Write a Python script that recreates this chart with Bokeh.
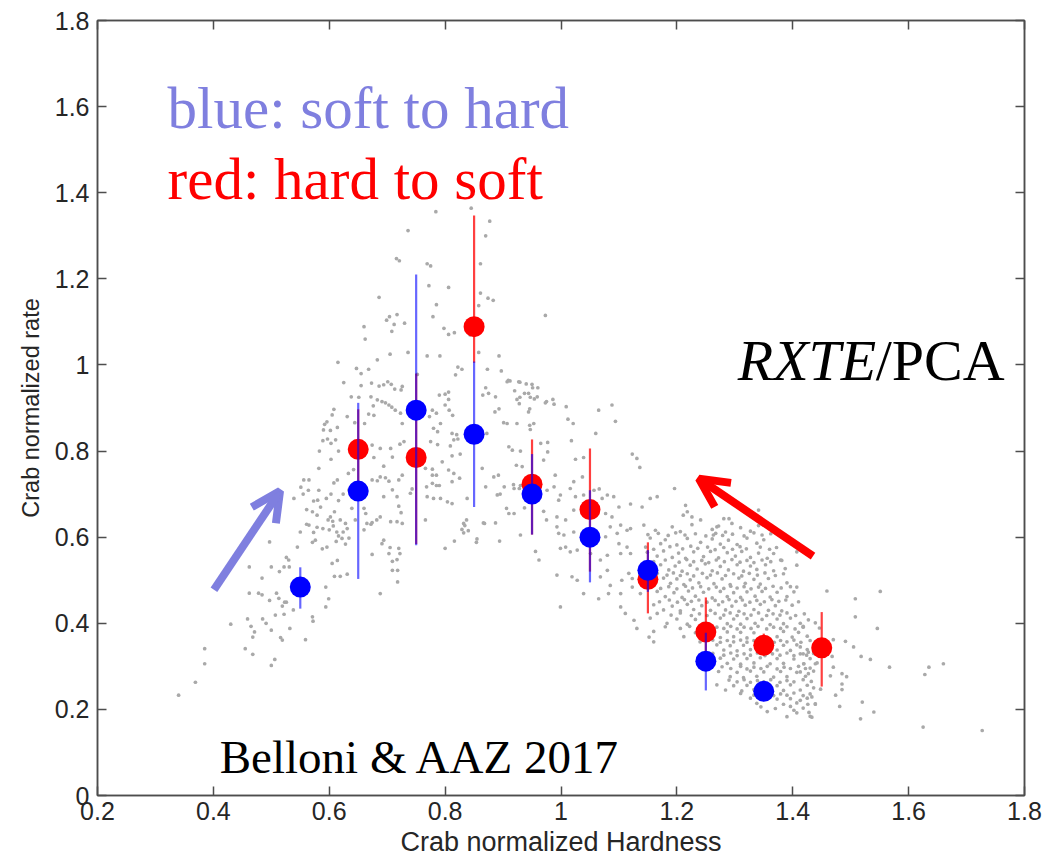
from bokeh.plotting import figure
from bokeh.models import (ColumnDataSource, FixedTicker, LinearAxis, Label, Arrow,
                          OpenHead, CustomJSTickFormatter, Range1d)
from bokeh.embed import file_html
from bokeh.resources import INLINE

# ---------------- data ----------------
x_ticks = [0.2, 0.4, 0.6, 0.8, 1.0, 1.2, 1.4, 1.6, 1.8]
x_tick_labels = ["0.2", "0.4", "0.6", "0.8", "1", "1.2", "1.4", "1.6", "1.8"]
y_ticks = [0.0, 0.2, 0.4, 0.6, 0.8, 1.0, 1.2, 1.4, 1.6, 1.8]
y_tick_labels = ["0", "0.2", "0.4", "0.6", "0.8", "1", "1.2", "1.4", "1.6", "1.8"]

# blue: soft to hard
blue_x = [0.55, 0.65, 0.75, 0.85, 0.95, 1.05, 1.15, 1.25, 1.35]
blue_y = [0.484, 0.707, 0.895, 0.839, 0.700, 0.600, 0.523, 0.312, 0.242]
blue_lo = [0.434, 0.503, 0.581, 0.670, 0.606, 0.495, 0.473, 0.244, 0.236]
blue_hi = [0.530, 0.912, 1.210, 1.008, 0.793, 0.709, 0.570, 0.378, 0.248]

# red: hard to soft
red_x = [0.65, 0.75, 0.85, 0.95, 1.05, 1.15, 1.25, 1.35, 1.45]
red_y = [0.804, 0.785, 1.089, 0.723, 0.664, 0.502, 0.380, 0.349, 0.343]
red_lo = [0.700, 0.584, 1.005, 0.606, 0.520, 0.423, 0.320, 0.325, 0.253]
red_hi = [0.897, 0.980, 1.347, 0.827, 0.806, 0.588, 0.460, 0.376, 0.426]

# grey cloud of individual observations (hardness, rate)
gray_rise = [
    (0.340, 0.233), (0.369, 0.263), (0.385, 0.306), (0.385, 0.341), (0.430, 0.398), (0.455, 0.341),
    (0.468, 0.328), (0.459, 0.410), (0.465, 0.393), (0.471, 0.380), (0.468, 0.368), (0.485, 0.410),
    (0.491, 0.400), (0.500, 0.384), (0.506, 0.316), (0.500, 0.302), (0.516, 0.367), (0.519, 0.361),
    (0.532, 0.388), (0.462, 0.531), (0.484, 0.505), (0.500, 0.531), (0.522, 0.531), (0.531, 0.531),
    (0.462, 0.470), (0.478, 0.470), (0.484, 0.466), (0.497, 0.453), (0.509, 0.470), (0.513, 0.458),
    (0.523, 0.449), (0.526, 0.449), (0.519, 0.440), (0.507, 0.419), (0.522, 0.421), (0.538, 0.431),
    (0.539, 0.690), (0.555, 0.700), (0.564, 0.709), (0.580, 0.686), (0.595, 0.690), (0.561, 0.664),
    (0.571, 0.659), (0.579, 0.651), (0.565, 0.628), (0.550, 0.612), (0.576, 0.593), (0.571, 0.588),
    (0.545, 0.577), (0.497, 0.589), (0.526, 0.553), (0.530, 0.547), (0.514, 0.520), (0.609, 0.659),
    (0.602, 0.647), (0.607, 0.626), (0.619, 0.640), (0.628, 0.632), (0.631, 0.620), (0.622, 0.597),
    (0.616, 0.603), (0.612, 0.590), (0.596, 0.577), (0.588, 0.573), (0.605, 0.539), (0.609, 0.509),
    (0.619, 0.509), (0.631, 0.514), (0.614, 0.546), (0.594, 0.484), (0.599, 0.457), (0.594, 0.438),
    (0.571, 0.415), (0.572, 0.405), (0.559, 0.362),
    (0.611, 0.826), (0.589, 0.824), (0.597, 0.828), (0.603, 0.818), (0.603, 0.781), (0.582, 0.760),
    (0.556, 0.733), (0.565, 0.733), (0.551, 0.716), (0.582, 0.709), (0.573, 0.684), (0.585, 0.670),
    (0.561, 0.630), (0.579, 0.623), (0.589, 0.620), (0.598, 0.640), (0.606, 0.637), (0.600, 0.617),
    (0.613, 0.612), (0.624, 0.612), (0.573, 0.611), (0.634, 0.598), (0.628, 0.584), (0.614, 0.733),
    (0.608, 0.726), (0.603, 0.700), (0.616, 0.685), (0.624, 0.700), (0.634, 0.710), (0.639, 0.667),
    (0.645, 0.640), (0.660, 0.667), (0.660, 0.617), (0.672, 0.630), (0.682, 0.640),
    (0.614, 0.855), (0.602, 0.848), (0.590, 0.849), (0.583, 0.800), (0.616, 0.800), (0.633, 0.748),
    (0.642, 0.757), (0.608, 0.897), (0.605, 0.884), (0.596, 0.868), (0.592, 0.862),
]
gray_peak = [
    (0.625, 0.959), (0.686, 0.951), (0.638, 0.926), (0.651, 0.925), (0.672, 0.926), (0.683, 0.919),
    (0.691, 0.915), (0.697, 0.912), (0.703, 0.907), (0.708, 0.902), (0.676, 0.905), (0.631, 0.880),
    (0.644, 0.866), (0.661, 0.864), (0.668, 0.886), (0.677, 0.883), (0.714, 0.895), (0.723, 0.888),
    (0.726, 0.864), (0.729, 0.822), (0.722, 0.816), (0.726, 0.950), (0.724, 0.942), (0.778, 0.895),
    (0.785, 0.888), (0.773, 0.880), (0.792, 0.864), (0.800, 0.907), (0.806, 0.920), (0.807, 0.895),
    (0.813, 0.883), (0.780, 0.853), (0.787, 0.845), (0.775, 0.822), (0.787, 0.815), (0.812, 0.841),
    (0.820, 0.838), (0.815, 0.826), (0.822, 0.828), (0.809, 0.812), (0.795, 0.775), (0.812, 0.789),
    (0.826, 0.793), (0.806, 0.756), (0.815, 0.748), (0.825, 0.737), (0.812, 0.729), (0.790, 0.720),
    (0.778, 0.744), (0.785, 0.744), (0.769, 0.694), (0.832, 0.632), (0.837, 0.640), (0.840, 0.615),
    (0.864, 0.760), (0.866, 0.633), (0.884, 0.740), (0.892, 0.744), (0.902, 0.717), (0.895, 0.700),
    (0.919, 0.713), (0.928, 0.713), (0.923, 0.767), (0.933, 0.764), (0.916, 0.802), (0.930, 0.800),
    (0.907, 0.864), (0.924, 0.864), (0.910, 0.810), (0.875, 0.934), (0.886, 0.891), (0.907, 0.961),
    (0.927, 0.961), (0.944, 0.934), (0.959, 0.926), (0.975, 0.915), (0.944, 0.891), (0.953, 0.864),
    (0.947, 0.850), (0.924, 0.920), (0.872, 0.841), (0.906, 0.667), (0.919, 0.655), (0.937, 0.668),
    (0.970, 0.660), (0.975, 0.640), (0.956, 0.567), (0.855, 0.596), (0.832, 0.610),
    (0.674, 0.814), (0.688, 0.806), (0.706, 0.806), (0.677, 0.785), (0.694, 0.765), (0.709, 0.786),
    (0.688, 0.740), (0.697, 0.738), (0.674, 0.733), (0.683, 0.731), (0.703, 0.730), (0.720, 0.733),
    (0.726, 0.744), (0.709, 0.710), (0.717, 0.694), (0.720, 0.672), (0.694, 0.694), (0.724, 0.657),
    (0.691, 0.585), (0.705, 0.576), (0.717, 0.548), (0.674, 0.560), (0.709, 0.544), (0.766, 0.760),
    (0.778, 0.758), (0.760, 0.770), (0.778, 0.725), (0.785, 0.720),
    (0.663, 0.655), (0.665, 0.632), (0.674, 0.634), (0.688, 0.647), (0.694, 0.593), (0.703, 0.562),
    (0.720, 0.574), (0.722, 0.562), (0.709, 0.523), (0.718, 0.523), (0.718, 0.496), (0.688, 0.469),
    (0.706, 0.636), (0.717, 0.636), (0.726, 0.632), (0.740, 0.702), (0.743, 0.712), (0.766, 0.640),
    (0.768, 0.717), (0.780, 0.690), (0.792, 0.690), (0.804, 0.682), (0.812, 0.678), (0.800, 0.574),
    (0.816, 0.591), (0.829, 0.618), (0.834, 0.627), (0.838, 0.690), (0.854, 0.588), (0.868, 0.632),
    (0.870, 0.717), (0.887, 0.633), (0.890, 0.698), (0.894, 0.591), (0.910, 0.655), (0.930, 0.605),
    (0.962, 0.547), (0.930, 0.720), (0.918, 0.722),
    (0.845, 1.364), (0.784, 1.356), (0.877, 1.334), (0.736, 1.312), (0.870, 1.300), (0.716, 1.247),
    (0.721, 1.242), (0.769, 1.235), (0.775, 1.230), (0.861, 1.235), (0.772, 1.184), (0.806, 1.180),
    (0.686, 1.157), (0.785, 1.140), (0.861, 1.167), (0.874, 1.155), (0.883, 1.150), (0.858, 1.138),
    (0.704, 1.112), (0.699, 1.104), (0.717, 1.117), (0.730, 1.097), (0.712, 1.094), (0.779, 1.112),
    (0.660, 1.089), (0.708, 1.078), (0.798, 1.085), (0.806, 1.071), (0.816, 1.075), (0.843, 1.070),
    (0.662, 1.060), (0.683, 1.012), (0.705, 1.025), (0.736, 1.029), (0.769, 1.021), (0.791, 1.021),
    (0.858, 1.029), (0.893, 1.021), (0.615, 1.006), (0.647, 0.992), (0.655, 0.980), (0.668, 0.990),
    (0.822, 0.995), (0.829, 0.990), (0.873, 0.990), (0.897, 0.986), (0.752, 0.978), (0.818, 0.977),
    (0.655, 0.952), (0.673, 0.958), (0.701, 0.961), (0.707, 0.955), (0.694, 0.954), (0.713, 0.944),
    (0.800, 0.932), (0.806, 0.937), (0.790, 0.930), (0.870, 0.947), (0.912, 0.963), (0.940, 0.956),
    (0.950, 0.955), (0.960, 0.947), (0.920, 0.940), (0.947, 0.925), (0.865, 0.930), (0.887, 0.926),
    (0.928, 0.910),
    (0.973, 1.115), (0.909, 0.964), (0.929, 0.960), (0.951, 0.947), (0.937, 0.934), (0.929, 0.925),
    (0.954, 0.921), (0.973, 0.912), (0.988, 0.909), (1.009, 0.903), (0.946, 0.898), (0.893, 0.898),
    (1.012, 0.874), (1.021, 0.864), (1.065, 0.895), (1.088, 0.907), (1.094, 0.869), (0.901, 0.866),
    (0.946, 0.860),
]
gray_fall = [
    (0.986, 0.920), (1.060, 0.841), (1.018, 0.824), (0.977, 0.820), (1.025, 0.781), (1.039, 0.785),
    (1.123, 0.793), (1.131, 0.783), (1.136, 0.762), (1.196, 0.713), (1.166, 0.694), (1.154, 0.690),
    (1.140, 0.670), (1.120, 0.677), (1.215, 0.674), (1.218, 0.659), (1.211, 0.651), (1.281, 0.643),
    (1.290, 0.643), (1.295, 0.632), (1.341, 0.663), (1.269, 0.624), (1.263, 0.605),
    (0.965, 0.818), (0.977, 0.798), (0.970, 0.779), (0.990, 0.744), (0.976, 0.709), (0.988, 0.717),
    (0.999, 0.698), (0.996, 0.686), (1.016, 0.713), (1.022, 0.729), (1.037, 0.740), (1.025, 0.694),
    (1.039, 0.698), (1.057, 0.709), (1.066, 0.712), (1.071, 0.690), (1.080, 0.698), (1.091, 0.694),
    (1.100, 0.670), (1.088, 0.647), (1.077, 0.655), (1.062, 0.659), (1.085, 0.624), (1.103, 0.628),
    (1.114, 0.616), (1.120, 0.620), (1.097, 0.609), (1.077, 0.601), (1.100, 0.585), (1.114, 0.577),
    (1.120, 0.562), (1.103, 0.562), (1.080, 0.558), (1.068, 0.547), (1.051, 0.562), (1.028, 0.570),
    (1.016, 0.566), (1.008, 0.577), (0.999, 0.574), (0.996, 0.609), (0.993, 0.624), (1.005, 0.605),
    (1.022, 0.612), (1.008, 0.640), (0.993, 0.647), (1.022, 0.663), (1.080, 0.523), (1.068, 0.508),
    (1.085, 0.488), (1.105, 0.500), (1.117, 0.516), (1.123, 0.504), (1.103, 0.469), (1.082, 0.469),
    (1.065, 0.457), (1.039, 0.469), (1.028, 0.500), (1.019, 0.508), (0.993, 0.512), (0.999, 0.438),
    (1.103, 0.438), (1.111, 0.423), (1.126, 0.407), (1.131, 0.388), (1.152, 0.368), (1.160, 0.357),
    (1.123, 0.484), (1.137, 0.469), (1.226, 0.647), (1.241, 0.640), (1.367, 0.562), (1.379, 0.547),
    (1.387, 0.527), (1.407, 0.484),
]
gray_blob = [
    (1.143, 0.628), (1.163, 0.616), (1.192, 0.624), (1.206, 0.613), (1.226, 0.629), (1.261, 0.618),
    (1.272, 0.626), (1.284, 0.612), (1.310, 0.622), (1.327, 0.614), (1.341, 0.627),
    (1.154, 0.598), (1.172, 0.585), (1.180, 0.594), (1.200, 0.582), (1.218, 0.597), (1.241, 0.588),
    (1.261, 0.596), (1.275, 0.584), (1.289, 0.593), (1.304, 0.583), (1.321, 0.598), (1.338, 0.586),
    (1.350, 0.594),
    (1.149, 0.565), (1.166, 0.556), (1.177, 0.568), (1.192, 0.553), (1.203, 0.563), (1.215, 0.551),
    (1.229, 0.566), (1.246, 0.555), (1.258, 0.567), (1.272, 0.552), (1.287, 0.564), (1.301, 0.556),
    (1.312, 0.567), (1.327, 0.553), (1.341, 0.563), (1.356, 0.551), (1.407, 0.566),
    (1.172, 0.536), (1.186, 0.524), (1.197, 0.533), (1.209, 0.521), (1.223, 0.535), (1.235, 0.526),
    (1.249, 0.538), (1.261, 0.522), (1.275, 0.532), (1.289, 0.524), (1.304, 0.536), (1.315, 0.521),
    (1.327, 0.533), (1.338, 0.525), (1.353, 0.536), (1.367, 0.522),
    (1.177, 0.505), (1.189, 0.493), (1.200, 0.503), (1.212, 0.490), (1.223, 0.501), (1.238, 0.494),
    (1.252, 0.506), (1.264, 0.492), (1.278, 0.503), (1.292, 0.490), (1.307, 0.505), (1.318, 0.493),
    (1.333, 0.502), (1.344, 0.491), (1.358, 0.504), (1.390, 0.494),
    (1.166, 0.474), (1.180, 0.462), (1.195, 0.471), (1.209, 0.460), (1.220, 0.475), (1.232, 0.463),
    (1.246, 0.472), (1.261, 0.459), (1.275, 0.474), (1.287, 0.462), (1.298, 0.471), (1.310, 0.460),
    (1.321, 0.473), (1.335, 0.463), (1.347, 0.474), (1.361, 0.461), (1.373, 0.472), (1.390, 0.462),
    (1.402, 0.473),
    (1.160, 0.443), (1.177, 0.431), (1.192, 0.440), (1.206, 0.429), (1.218, 0.444), (1.229, 0.432),
    (1.243, 0.441), (1.258, 0.430), (1.272, 0.443), (1.284, 0.431), (1.295, 0.440), (1.307, 0.428),
    (1.318, 0.442), (1.333, 0.432), (1.344, 0.444), (1.358, 0.430), (1.370, 0.441), (1.381, 0.429),
    (1.399, 0.442),
    (1.154, 0.412), (1.183, 0.400), (1.200, 0.410), (1.218, 0.398), (1.232, 0.409), (1.246, 0.400),
    (1.275, 0.412), (1.287, 0.399), (1.298, 0.410), (1.310, 0.398), (1.321, 0.411), (1.335, 0.400),
    (1.347, 0.409), (1.361, 0.397), (1.373, 0.410), (1.384, 0.399), (1.396, 0.412), (1.413, 0.400),
    (1.427, 0.408),
    (1.160, 0.381), (1.212, 0.369), (1.232, 0.378), (1.275, 0.367), (1.287, 0.380), (1.298, 0.369),
    (1.310, 0.379), (1.321, 0.366), (1.333, 0.378), (1.373, 0.369), (1.384, 0.381), (1.399, 0.368),
    (1.410, 0.379), (1.425, 0.370),
    (1.269, 0.350), (1.281, 0.338), (1.292, 0.348), (1.304, 0.336), (1.315, 0.349), (1.327, 0.339),
    (1.338, 0.350), (1.373, 0.338), (1.384, 0.349), (1.396, 0.337), (1.407, 0.350), (1.425, 0.339),
    (1.436, 0.347),
    (1.275, 0.319), (1.287, 0.307), (1.298, 0.317), (1.310, 0.305), (1.321, 0.318), (1.333, 0.308),
    (1.344, 0.320), (1.361, 0.306), (1.373, 0.318), (1.384, 0.307), (1.402, 0.317), (1.419, 0.306),
    (1.430, 0.318), (1.442, 0.308),
    (1.272, 0.288), (1.292, 0.276), (1.304, 0.286), (1.315, 0.274), (1.327, 0.289), (1.338, 0.277),
    (1.350, 0.287), (1.367, 0.275), (1.379, 0.288), (1.390, 0.276), (1.407, 0.286), (1.422, 0.277),
    (1.436, 0.289),
    (1.269, 0.257), (1.284, 0.245), (1.298, 0.255), (1.312, 0.243), (1.321, 0.256), (1.333, 0.246),
    (1.373, 0.255), (1.384, 0.244), (1.396, 0.257), (1.413, 0.245), (1.425, 0.256), (1.448, 0.247),
    (1.327, 0.226), (1.338, 0.214), (1.373, 0.224), (1.384, 0.212), (1.396, 0.225), (1.407, 0.215),
    (1.425, 0.226), (1.439, 0.213),
    (1.356, 0.195), (1.390, 0.183), (1.407, 0.192), (1.430, 0.184),
]
gray_blob_fill = [
    (1.150, 0.606), (1.168, 0.609), (1.185, 0.604), (1.198, 0.610), (1.214, 0.605), (1.232, 0.608),
    (1.250, 0.603), (1.267, 0.609), (1.279, 0.604), (1.296, 0.607), (1.316, 0.603), (1.333, 0.610),
    (1.347, 0.605), (1.362, 0.608),
    (1.146, 0.577), (1.160, 0.572), (1.188, 0.578), (1.210, 0.573), (1.224, 0.579), (1.236, 0.574),
    (1.253, 0.577), (1.266, 0.571), (1.281, 0.576), (1.296, 0.572), (1.309, 0.578), (1.320, 0.573),
    (1.344, 0.577), (1.360, 0.572), (1.372, 0.576),
    (1.160, 0.543), (1.180, 0.547), (1.204, 0.542), (1.217, 0.548), (1.229, 0.543), (1.243, 0.546),
    (1.255, 0.541), (1.268, 0.547), (1.282, 0.543), (1.295, 0.548), (1.309, 0.542), (1.321, 0.546),
    (1.333, 0.541), (1.347, 0.547), (1.362, 0.543), (1.381, 0.546),
    (1.166, 0.516), (1.183, 0.512), (1.194, 0.517), (1.206, 0.511), (1.218, 0.515), (1.229, 0.510),
    (1.244, 0.516), (1.258, 0.512), (1.270, 0.517), (1.284, 0.511), (1.298, 0.515), (1.312, 0.510),
    (1.325, 0.516), (1.339, 0.512), (1.352, 0.517), (1.370, 0.511), (1.384, 0.515),
    (1.172, 0.481), (1.186, 0.485), (1.200, 0.480), (1.215, 0.486), (1.227, 0.482), (1.241, 0.485),
    (1.255, 0.480), (1.268, 0.484), (1.281, 0.481), (1.293, 0.486), (1.304, 0.482), (1.316, 0.485),
    (1.328, 0.480), (1.341, 0.484), (1.353, 0.481), (1.366, 0.486), (1.380, 0.482), (1.396, 0.485),
    (1.170, 0.450), (1.187, 0.454), (1.201, 0.449), (1.213, 0.455), (1.225, 0.451), (1.238, 0.454),
    (1.252, 0.449), (1.266, 0.453), (1.279, 0.450), (1.290, 0.455), (1.302, 0.451), (1.313, 0.454),
    (1.326, 0.449), (1.338, 0.453), (1.351, 0.450), (1.364, 0.455), (1.376, 0.451), (1.388, 0.454),
    (1.410, 0.450),
    (1.166, 0.423), (1.190, 0.419), (1.206, 0.424), (1.225, 0.418), (1.239, 0.422), (1.252, 0.418),
    (1.266, 0.423), (1.281, 0.419), (1.292, 0.424), (1.304, 0.418), (1.316, 0.422), (1.328, 0.419),
    (1.341, 0.424), (1.355, 0.418), (1.366, 0.422), (1.378, 0.419), (1.390, 0.424), (1.405, 0.418),
    (1.420, 0.422),
    (1.180, 0.392), (1.206, 0.388), (1.222, 0.393), (1.255, 0.387), (1.269, 0.391), (1.281, 0.388),
    (1.293, 0.393), (1.304, 0.387), (1.316, 0.391), (1.328, 0.388), (1.340, 0.393), (1.355, 0.387),
    (1.367, 0.391), (1.379, 0.388), (1.390, 0.392), (1.404, 0.387), (1.418, 0.391),
    (1.240, 0.357), (1.262, 0.361), (1.275, 0.356), (1.287, 0.360), (1.298, 0.357), (1.310, 0.361),
    (1.321, 0.356), (1.333, 0.360), (1.345, 0.357), (1.357, 0.361), (1.368, 0.356), (1.379, 0.360),
    (1.390, 0.357), (1.402, 0.361), (1.414, 0.356), (1.430, 0.360),
    (1.262, 0.330), (1.281, 0.326), (1.293, 0.331), (1.304, 0.325), (1.316, 0.329), (1.327, 0.326),
    (1.339, 0.331), (1.352, 0.325), (1.365, 0.329), (1.378, 0.326), (1.390, 0.331), (1.402, 0.325),
    (1.413, 0.329), (1.424, 0.326), (1.436, 0.330),
    (1.278, 0.299), (1.293, 0.295), (1.310, 0.300), (1.321, 0.294), (1.333, 0.298), (1.345, 0.295),
    (1.356, 0.300), (1.373, 0.294), (1.385, 0.298), (1.396, 0.295), (1.410, 0.300), (1.430, 0.296),
    (1.290, 0.268), (1.304, 0.264), (1.316, 0.269), (1.327, 0.263), (1.339, 0.267), (1.350, 0.264),
    (1.362, 0.269), (1.378, 0.263), (1.390, 0.267), (1.402, 0.264), (1.418, 0.269), (1.432, 0.265),
    (1.310, 0.237), (1.333, 0.233), (1.350, 0.238), (1.367, 0.232), (1.379, 0.236), (1.390, 0.233),
    (1.402, 0.238), (1.418, 0.232), (1.430, 0.236),
    (1.345, 0.206), (1.370, 0.202), (1.396, 0.207), (1.418, 0.203),
]
gray_tail = [
    (1.407, 0.535), (1.459, 0.475), (1.508, 0.457), (1.551, 0.474), (1.508, 0.415), (1.546, 0.388),
    (1.505, 0.345), (1.518, 0.323), (1.534, 0.316), (1.567, 0.298), (1.485, 0.283), (1.493, 0.276),
    (1.485, 0.259), (1.470, 0.298), (1.465, 0.278), (1.474, 0.233), (1.520, 0.217), (1.540, 0.194),
    (1.433, 0.182), (1.428, 0.193), (1.402, 0.198), (1.517, 0.178), (1.418, 0.393), (1.439, 0.401),
    (1.446, 0.389), (1.470, 0.362), (1.491, 0.358), (1.468, 0.323), (1.485, 0.246), (1.481, 0.207),
    (1.628, 0.281), (1.635, 0.298), (1.660, 0.306), (1.625, 0.159), (1.727, 0.151), (1.413, 0.345),
    (1.418, 0.329), (1.427, 0.333), (1.419, 0.306), (1.427, 0.283), (1.439, 0.306), (1.422, 0.295),
    (1.413, 0.287), (1.436, 0.250), (1.433, 0.229), (1.426, 0.212), (1.439, 0.212), (1.413, 0.221),
]

# ---------------- figure ----------------
AX = "#4d4d4d"
TXT = "#262626"
SANS = "Liberation Sans"
SERIF = "Liberation Serif"

p = figure(frame_width=927, frame_height=775, output_backend="svg", toolbar_location=None,
           x_range=Range1d(0.2, 1.8), y_range=Range1d(0.0, 1.8),
           min_border_left=97, min_border_right=40, min_border_top=20, min_border_bottom=65,
           background_fill_color="white", border_fill_color="white")
p.grid.visible = False
p.outline_line_color = AX
p.outline_line_width = 1.5

def style_axis(ax, ticks, labels, show_labels):
    ax.ticker = FixedTicker(ticks=ticks)
    ax.minor_tick_line_color = None
    ax.major_tick_in = 9
    ax.major_tick_out = 0
    ax.axis_line_color = AX
    ax.axis_line_width = 1.5
    ax.major_tick_line_color = AX
    ax.major_tick_line_width = 1.5
    if show_labels:
        ax.major_label_overrides = dict(zip(ticks, labels))
        ax.major_label_text_font = SANS
        ax.major_label_text_font_size = "25px"
        ax.major_label_text_color = TXT
        ax.axis_label_text_font = SANS
        ax.axis_label_text_font_style = "normal"
        ax.axis_label_text_color = TXT
    else:
        ax.formatter = CustomJSTickFormatter(code="return ''")
        ax.major_label_text_font_size = "0px"
        ax.major_label_standoff = 0

style_axis(p.xaxis[0], x_ticks, x_tick_labels, True)
style_axis(p.yaxis[0], y_ticks, y_tick_labels, True)
p.xaxis[0].axis_label = "Crab normalized Hardness"
p.xaxis[0].axis_label_text_font_size = "27px"
p.xaxis[0].major_label_standoff = 6
p.xaxis[0].axis_label_standoff = 4
p.yaxis[0].axis_label = "Crab normalized rate"
p.yaxis[0].axis_label_text_font_size = "23.5px"
p.yaxis[0].major_label_standoff = 8
p.yaxis[0].axis_label_standoff = 8

top_ax = LinearAxis()
style_axis(top_ax, x_ticks, x_tick_labels, False)
p.add_layout(top_ax, "above")
right_ax = LinearAxis()
style_axis(right_ax, y_ticks, y_tick_labels, False)
p.add_layout(right_ax, "right")

# grey cloud
gray_all = gray_rise + gray_peak + gray_fall + gray_blob + gray_blob_fill + gray_tail
gsrc = ColumnDataSource(dict(x=[g[0] for g in gray_all], y=[g[1] for g in gray_all]))
p.scatter("x", "y", source=gsrc, size=3.7, marker="circle", fill_color="#a9a9a9", line_color=None)

# red series
rsrc = ColumnDataSource(dict(x=red_x, y=red_y, lo=red_lo, hi=red_hi))
p.scatter("x", "y", source=rsrc, size=21, marker="circle", fill_color="#ff0000", line_color=None)
p.segment(x0="x", y0="lo", x1="x", y1="hi", source=rsrc, line_color="#ff0000", line_width=2.2,
          line_alpha=0.75)

# blue series
bsrc = ColumnDataSource(dict(x=blue_x, y=blue_y, lo=blue_lo, hi=blue_hi))
p.segment(x0="x", y0="lo", x1="x", y1="hi", source=bsrc, line_color="#0000ff", line_width=2.2,
          line_alpha=0.6)
p.scatter("x", "y", source=bsrc, size=21, marker="circle", fill_color="#0000ff", line_color=None)

# arrows
BLUE_TXT = "#7f7fdf"
p.add_layout(Arrow(end=OpenHead(size=29, line_color=BLUE_TXT, line_width=8),
                   x_start=0.401, y_start=0.478, x_end=0.515, y_end=0.707,
                   line_color=BLUE_TXT, line_width=8))
p.add_layout(Arrow(end=OpenHead(size=29, line_color="#ff0000", line_width=8),
                   x_start=1.435, y_start=0.556, x_end=1.238, y_end=0.736,
                   line_color="#ff0000", line_width=8))

# annotations
p.add_layout(Label(x=0.321, y=1.596, text="blue: soft to hard", text_font=SERIF,
                   text_font_size="59px", text_color=BLUE_TXT, text_baseline="alphabetic"))
p.add_layout(Label(x=0.321, y=1.433, text="red: hard to soft", text_font=SERIF,
                   text_font_size="59px", text_color="#ff0000", text_baseline="alphabetic"))
p.add_layout(Label(x=1.305, y=1.011, text="RXTE", text_font=SERIF, text_font_style="italic",
                   text_font_size="58px", text_color="black", text_baseline="alphabetic"))
p.add_layout(Label(x=1.305, y=1.011, x_offset=138, text="/PCA", text_font=SERIF,
                   text_font_size="58px", text_color="black", text_baseline="alphabetic"))
p.add_layout(Label(x=0.411, y=0.089, text="Belloni & AAZ 2017", text_font=SERIF,
                   text_font_size="47px", text_color="black", text_baseline="alphabetic"))

open("out.html", "w").write(file_html(p, INLINE))
